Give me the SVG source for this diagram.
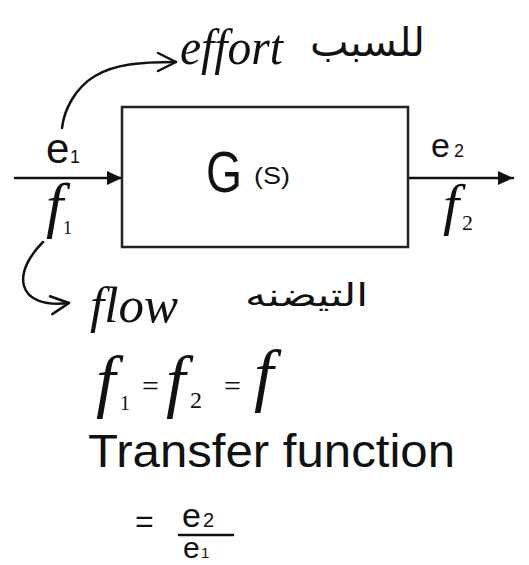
<svg xmlns="http://www.w3.org/2000/svg" width="529" height="565" viewBox="0 0 529 565">
<defs>
<style>
.ln{fill:none;stroke:#111;stroke-width:2.5;stroke-linecap:round;stroke-linejoin:round}
.box{fill:#fff;stroke:#222;stroke-width:2.5}
.sans{font-family:"Liberation Sans",Arial,sans-serif;fill:#111}
.scr{font-family:"Liberation Serif","Times New Roman",serif;font-style:italic;fill:#111}
.ar{font-family:"DejaVu Sans","Noto Sans",sans-serif;fill:#111}
</style>
<marker id="tri" markerUnits="userSpaceOnUse" markerWidth="16" markerHeight="14" refX="15" refY="7" orient="auto" overflow="visible">
<path d="M0,0 L15,7 L0,14 z" fill="#111"/>
</marker>
<marker id="chev" markerUnits="userSpaceOnUse" markerWidth="22" markerHeight="22" refX="19" refY="10" orient="auto" overflow="visible">
<path d="M1,1 L19,10 L1,19" fill="none" stroke="#111" stroke-width="2.5" stroke-linecap="round" stroke-linejoin="round"/>
</marker>
</defs>
<rect width="529" height="565" fill="#fff"/>
<g id="connectors">
<line class="ln" x1="15" y1="178" x2="122" y2="178" marker-end="url(#tri)"/>
<line class="ln" x1="408" y1="178" x2="513" y2="178" marker-end="url(#tri)"/>
<path class="ln" d="M62,128 C64,110 75,88 95,76 C115,64 140,62 176,62" marker-end="url(#chev)"/>
<path class="ln" d="M43,242 C30,255 20,272 24,286 C28,300 45,306 69,303" marker-end="url(#chev)"/>
</g>
<g id="block">
<rect class="box" x="122" y="107" width="286" height="140"/>
<text class="sans" x="206" y="192" font-size="58" textLength="36" lengthAdjust="spacingAndGlyphs">G</text>
<text class="sans" x="254" y="184" font-size="24" textLength="36" lengthAdjust="spacingAndGlyphs">(S)</text>
</g>
<g id="input-labels">
<text class="sans" x="46" y="163" font-size="42">e<tspan x="70" font-size="18">1</tspan></text>
<text class="scr" x="46" y="226" font-size="62">f<tspan x="63" y="234" font-size="18" font-style="normal">1</tspan></text>
</g>
<g id="output-labels">
<text class="sans" x="431" y="157" font-size="34">e<tspan x="454" font-size="18">2</tspan></text>
<text class="scr" x="443" y="224" font-size="58">f<tspan x="462" y="230" font-size="22" font-style="normal">2</tspan></text>
</g>
<g id="effort-label">
<text class="scr" x="180" y="64" font-size="50" textLength="103" lengthAdjust="spacingAndGlyphs">effort</text>
<text class="ar" x="310" y="56" font-size="40" textLength="115" lengthAdjust="spacingAndGlyphs">للسبب</text>
</g>
<g id="flow-label">
<text class="scr" x="90" y="322" font-size="50" textLength="88" lengthAdjust="spacingAndGlyphs">flow</text>
<text class="ar" x="245" y="306" font-size="32" textLength="123" lengthAdjust="spacingAndGlyphs">التيضنه</text>
</g>
<g id="equation">
<text class="scr" font-size="70"><tspan x="96" y="404">f</tspan><tspan x="120" y="410" font-size="20" font-style="normal">1</tspan><tspan x="142" y="396" font-size="30" font-style="normal">=</tspan><tspan x="166" y="404">f</tspan><tspan x="190" y="408" font-size="24" font-style="normal">2</tspan><tspan x="224" y="396" font-size="30" font-style="normal">=</tspan><tspan x="254" y="398">f</tspan></text>
<text class="sans" x="88" y="467" font-size="46" textLength="367" lengthAdjust="spacingAndGlyphs">Transfer function</text>
<text class="sans" x="135" y="532" font-size="32">=</text>
<text class="sans" x="182" y="527" font-size="34">e<tspan x="203" font-size="20">2</tspan></text>
<line class="ln" x1="179" y1="535" x2="233" y2="535"/>
<text class="sans" x="183" y="558" font-size="30">e<tspan x="201" font-size="15">1</tspan></text>
</g>
</svg>
